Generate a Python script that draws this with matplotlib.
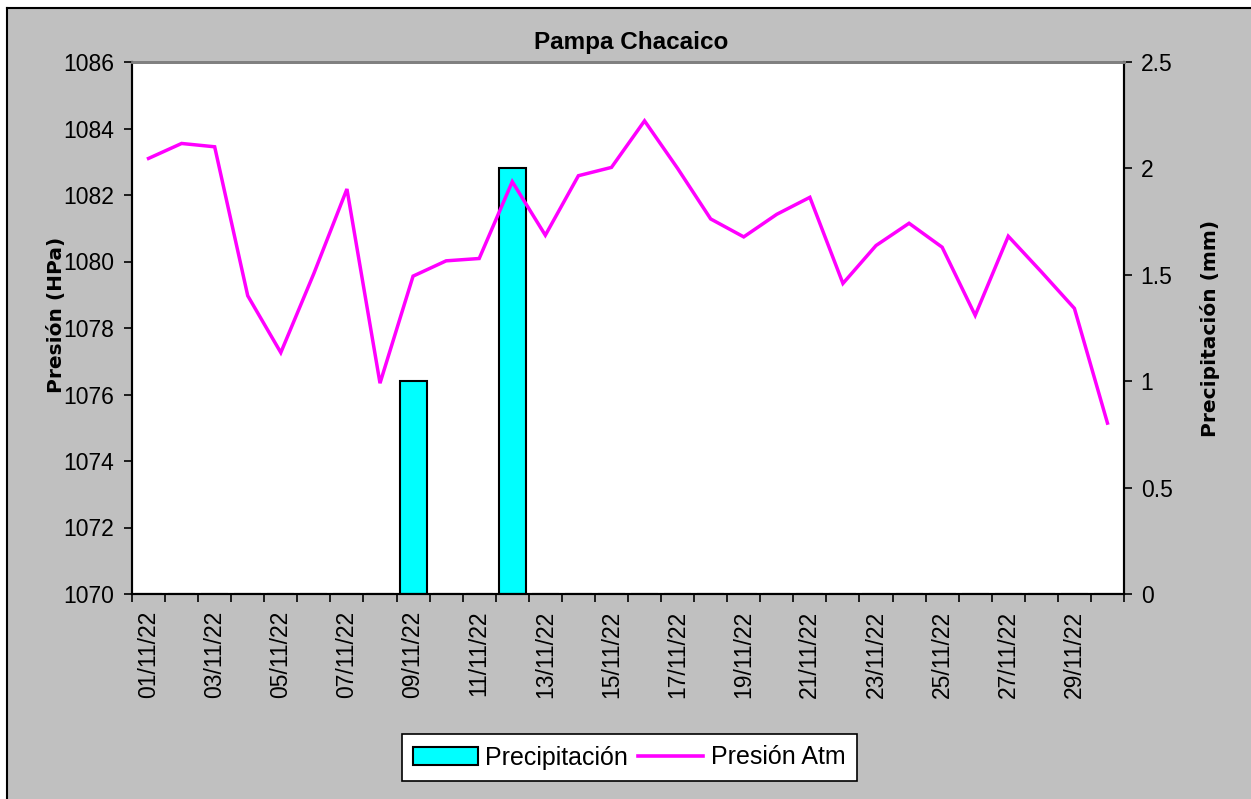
import matplotlib.pyplot as plt
import matplotlib.patches as patches
from matplotlib.lines import Line2D
import numpy as np

plt.rcParams['font.family'] = ['Liberation Sans', 'DejaVu Sans']

# data
dates = ['%02d/11/22' % d for d in range(1, 31)]
presion = [1083.1, 1083.55, 1083.45, 1078.97, 1077.26, 1079.64, 1082.18, 1076.34,
           1079.56, 1080.02, 1080.09, 1082.4, 1080.79, 1082.58, 1082.83, 1084.23,
           1082.8, 1081.28, 1080.74, 1081.42, 1081.93, 1079.34, 1080.48, 1081.15,
           1080.43, 1078.38, 1080.76, 1079.69, 1078.59, 1075.14]
precip = [0, 0, 0, 0, 0, 0, 0, 0, 1.0, 0, 0, 2.0, 0, 0, 0,
          0, 0, 0, 0, 0, 0, 0, 0, 0, 0, 0, 0, 0, 0, 0]
p_ticks = [1070, 1072, 1074, 1076, 1078, 1080, 1082, 1084, 1086]
r_ticks = [0, 0.5, 1, 1.5, 2, 2.5]

W, H = 1251, 799
fig = plt.figure(figsize=(W / 100, H / 100), dpi=100)
fig.patch.set_facecolor('white')

# gray chart area with black left/top border
fig.patches.append(patches.Rectangle((7 / W, 0), 1 - 7 / W, 1 - 8 / H, transform=fig.transFigure,
                                     facecolor='#C0C0C0', edgecolor='none', zorder=-5))
fig.add_artist(Line2D([7 / W, 7 / W], [0, 1 - 8 / H], transform=fig.transFigure,
                      color='black', lw=1.5, zorder=-4))
fig.add_artist(Line2D([7 / W, 1], [1 - 8 / H, 1 - 8 / H], transform=fig.transFigure,
                      color='black', lw=1.5, zorder=-4))

left, right, top, bottom = 132, 1124, 62, 594
ax = fig.add_axes([left / W, 1 - bottom / H, (right - left) / W, (bottom - top) / H])
ax2 = ax.twinx()

x = np.arange(len(dates))
fs = 16.5
lab_font = dict(fontsize=14.5, fontweight='bold', family='DejaVu Sans')

ax2.bar(x, precip, width=0.82, color='#00FFFF', edgecolor='black', linewidth=1.5)
ax2.set_ylim(0, 2.5)
ax2.set_yticks(r_ticks, ['0', '0.5', '1', '1.5', '2', '2.5'])
ax2.set_ylabel('Precipitación (mm)', labelpad=20, **lab_font)

ax.plot(x, presion, color='#FF00FF', lw=2.5, solid_joinstyle='miter')
ax.set_ylim(1070, 1086)
ax.set_yticks(p_ticks)
ax.set_ylabel('Presión (HPa)', labelpad=-2, **lab_font)
ax.yaxis.label.set_y(0.525)
ax.set_xlim(-0.5, len(dates) - 0.5)

# tick marks at category boundaries, labels every other day
ax.set_xticks(np.arange(-0.5, len(dates)), [''] * (len(dates) + 1))
ax.set_xticks(x[::2], dates[::2], minor=True, rotation=90)
ax.tick_params(axis='x', which='minor', length=0, pad=12, labelsize=fs)
ax.tick_params(axis='x', which='major', length=6, width=1.2, direction='out')
ax.tick_params(axis='y', length=6, width=1.2, labelsize=fs, pad=7)
ax2.tick_params(axis='y', length=6, width=1.2, labelsize=fs, pad=6)

ax.set_zorder(ax2.get_zorder() + 1)
ax.patch.set_visible(False)
ax2.patch.set_visible(True)
ax2.patch.set_facecolor('white')

for a in (ax, ax2):
    a.spines['top'].set_color('#808080')
    a.spines['top'].set_linewidth(2)
    a.spines['left'].set_linewidth(1.5)
    a.spines['bottom'].set_linewidth(1.5)
    a.spines['right'].set_linewidth(1.5)

fig.text(631 / W, 1 - 43 / H, 'Pampa Chacaico', ha='center', va='center',
         fontsize=17.5, fontweight='bold')

handles = [patches.Patch(facecolor='#00FFFF', edgecolor='black', linewidth=1.5),
           Line2D([], [], color='#FF00FF', lw=2.6)]
leg = fig.legend(handles, ['Precipitación', 'Presión Atm'], loc='center', ncol=2,
                 bbox_to_anchor=(629 / W, 1 - 757.5 / H), fontsize=18, fancybox=False,
                 edgecolor='black', framealpha=1, handlelength=2.6, handletextpad=0.3,
                 columnspacing=0.4, borderpad=0.45)
leg.get_frame().set_linewidth(1.2)

plt.savefig('out.png', dpi=100, facecolor=fig.get_facecolor())
